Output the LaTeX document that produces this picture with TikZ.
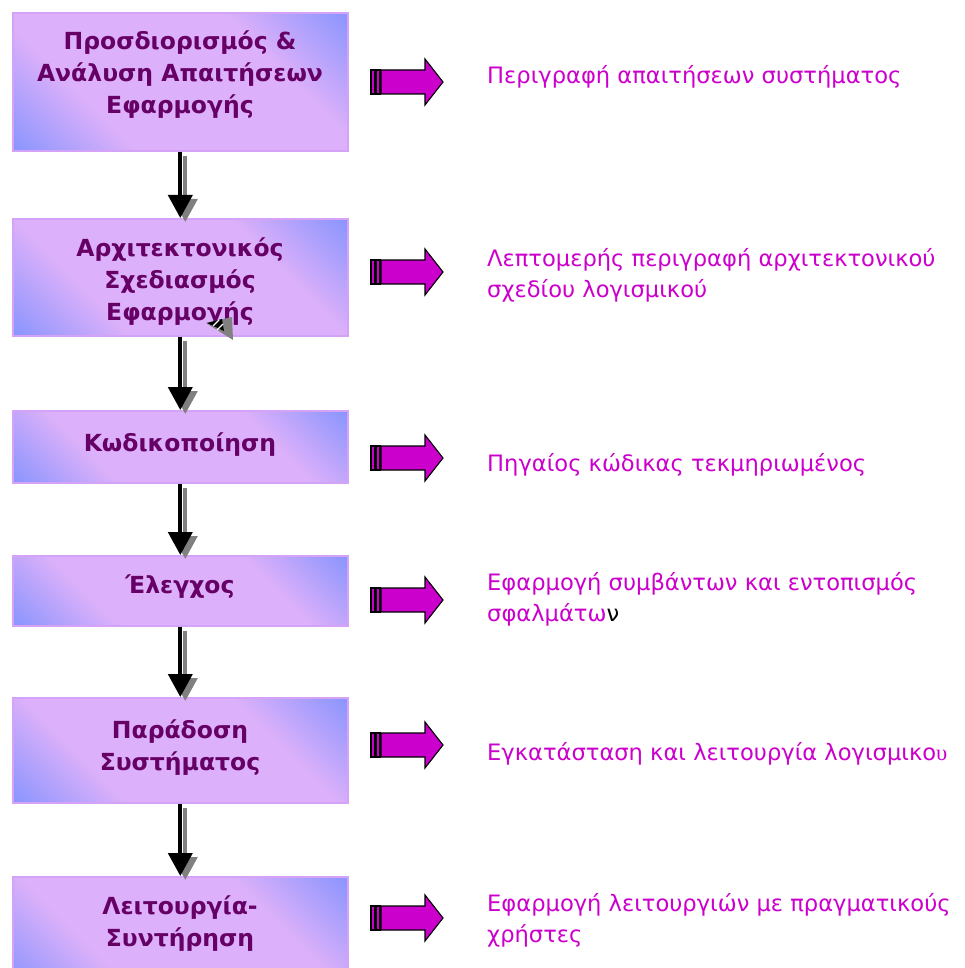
\documentclass[tikz,border=0pt]{standalone}
\usepackage{fontspec}
\setmainfont{DejaVu Sans}
\newfontfamily\serifface{Liberation Serif}
\usetikzlibrary{arrows.meta}

\definecolor{bxblue}{HTML}{5E86FF}
\definecolor{bxlav}{HTML}{DCB0FA}
\definecolor{bxedge}{HTML}{D4A2F6}
\definecolor{stagetxt}{HTML}{660066}
\definecolor{outtxt}{HTML}{CC00CC}
\definecolor{shadowgray}{HTML}{808080}

\pgfdeclarehorizontalshading{boxshade}{100bp}{color(0bp)=(bxblue); color(5bp)=(bxblue); color(33bp)=(bxlav); color(67bp)=(bxlav); color(95bp)=(bxblue); color(100bp)=(bxblue)}

\tikzset{
  stagebox/.style={draw=bxedge, line width=1.6pt, shading=boxshade, shading angle=45,
    minimum width=335pt, inner sep=0pt, anchor=north west},
  stagetext/.style={font=\bfseries\fontsize{23.5}{32}\selectfont, text=stagetxt, anchor=base, inner sep=0pt},
  outtext/.style={font=\fontsize{22.6}{32}\selectfont, text=outtxt, anchor=base west, inner sep=0pt},
  flow/.style={line width=4pt, -{Triangle[width=24pt,length=23pt]}},
  flowshadow/.style={flow, shadowgray},
  outarrow/.pic={
    \path[draw=black, fill=outtxt, line width=1.3pt]
      (0,-12) rectangle (4,12)
      (5,-12) rectangle (9,12);
    \path[draw=black, fill=outtxt, line width=1.1pt]
      (10,-12) -- (54,-12) -- (54,-23) -- (72,0) -- (54,23) -- (54,12) -- (10,12) -- cycle;
  }
}

\begin{document}
\begin{tikzpicture}[x=1pt, y=1pt]
\useasboundingbox (0,0) rectangle (965,-968);
\clip (0,0) rectangle (965,-968);
\fill[white] (0,0) rectangle (965,-968);

% process stages
\node[stagebox, minimum height=138pt] (s1) at (12,-12) {};
\node[stagebox, minimum height=117pt] (s2) at (12,-218) {};
\node[stagebox, minimum height=72pt]  (s3) at (12,-410) {};
\node[stagebox, minimum height=70pt]  (s4) at (12,-555) {};
\node[stagebox, minimum height=105pt] (s5) at (12,-697) {};
\node[stagebox, minimum height=110pt] (s6) at (12,-876) {};

\node[stagetext] (t1a) at (180,-49.5) {Προσδιορισμός \&};
\node[stagetext] (t1b) at (180,-81.5) {Ανάλυση Απαιτήσεων};
\node[stagetext] (t1c) at (180,-113.5) {Εφαρμογής};
\node[stagetext] (t2a) at (180,-256) {Αρχιτεκτονικός};
\node[stagetext] (t2b) at (180,-288) {Σχεδιασμός};
\node[stagetext] (t2c) at (180,-320) {Εφαρμογής};
\node[stagetext] (t3)  at (180,-451) {Κωδικοποίηση};
\node[stagetext] (t4)  at (180,-593) {Έλεγχος};
\node[stagetext] (t5a) at (180,-738) {Παράδοση};
\node[stagetext] (t5b) at (180,-770) {Συστήματος};
\node[stagetext] (t6a) at (180,-914) {Λειτουργία-};
\node[stagetext] (t6b) at (180,-946) {Συντήρηση};

% pointer glyph resting on the second stage
\fill[shadowgray] (206,-323) -- (232,-317) -- (233,-340) -- cycle;
\fill[black] (207,-323) -- (222,-319) -- (224,-331) -- cycle;
\draw[white, line width=1.2pt] (213,-326) -- (219,-320);
\draw[white, line width=1.2pt] (217,-330) -- (223,-324);

% flow between stages
\foreach \a/\b in {s1/s2, s2/s3, s3/s4, s4/s5, s5/s6} {
  \draw[flowshadow] ([shift={(5,-4)}]\a.south) -- ([shift={(5,-4)}]\b.north);
  \draw[flow] (\a.south) -- (\b.north);
}

% deliverables
\foreach \yc in {82,272,458,600,745,918}
  \pic at (371,-\yc) {outarrow};

\node[outtext] (o1)  at (487,-83.5) {Περιγραφή απαιτήσεων συστήματος};
\node[outtext] (o2a) at (487,-266) {Λεπτομερής περιγραφή αρχιτεκτονικού};
\node[outtext] (o2b) at (487,-297) {σχεδίου λογισμικού};
\node[outtext] (o3)  at (487,-471) {Πηγαίος κώδικας τεκμηριωμένος};
\node[outtext] (o4a) at (487,-590) {Εφαρμογή συμβάντων και εντοπισμός};
\node[outtext] (o4b) at (487,-621) {σφαλμάτω\textcolor{black}{ν}};
\node[outtext] (o5)  at (487,-760) {Εγκατάσταση και λειτουργία λογισμικο{\serifface υ}};
\node[outtext] (o6a) at (487,-911) {Εφαρμογή λειτουργιών με πραγματικούς};
\node[outtext] (o6b) at (487,-942) {χρήστες};
\end{tikzpicture}
\end{document}
